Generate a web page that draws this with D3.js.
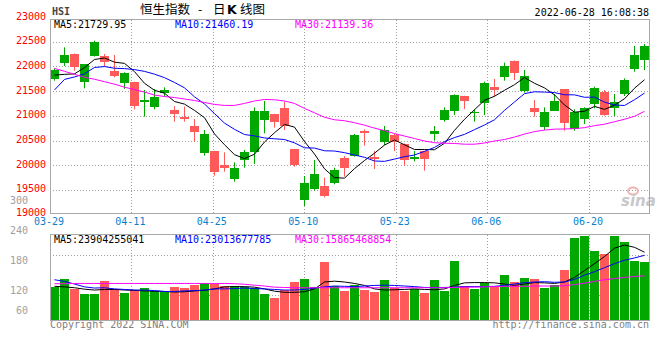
<!DOCTYPE html>
<html><head><meta charset="utf-8">
<script src="https://cdn.jsdelivr.net/npm/d3@7/dist/d3.min.js"></script>
<style>
body{margin:0;background:#fff}
svg{display:block}
text{font-family:"DejaVu Sans Mono","Liberation Mono",monospace;font-size:10px}
</style>
</head><body>
<svg id="c" width="660" height="360"></svg>
<script>
// ---------- data ----------
const dates = ["03-29","03-30","03-31","04-01","04-04","04-06","04-07","04-08","04-11","04-12","04-13","04-14","04-19","04-20","04-21","04-22","04-25","04-26","04-27","04-28","04-29","05-03","05-04","05-05","05-06","05-10","05-11","05-12","05-13","05-16","05-17","05-18","05-19","05-20","05-23","05-24","05-25","05-26","05-27","05-30","05-31","06-01","06-02","06-06","06-07","06-08","06-09","06-10","06-13","06-14","06-15","06-16","06-17","06-20","06-21","06-22","06-23","06-24","06-27","06-28"];
const open  = [21745,22075,22251,21677,22217,22210,21913,21657,21677,21273,21185,21455,21117,20982,20793,20254,20287,20004,19721,20105,20274,20915,21036,21165,20321,19296,19518,19579,19633,20152,20193,20692,20173,20463,20611,20422,20119,20287,20632,20915,21104,21401,21050,21266,21576,21779,22109,21509,21151,20766,21104,21536,20733,20935,21239,21488,21151,21441,21947,22129];
const high  = [21961,22386,22260,22045,22521,22251,22231,21880,21690,21522,21542,21576,21198,21185,20935,20712,20290,20260,20058,20308,21171,21299,21040,21286,20330,19781,20105,19748,19950,20186,20632,20726,20287,20793,20640,20440,20287,20290,20793,21171,21434,21405,21131,21691,21745,22075,22120,21927,21320,21171,21441,21540,21131,21171,21590,21522,21441,21758,22413,22453];
const low   = [21711,22008,21913,21556,22200,21994,21779,21542,21131,20982,21131,21387,20881,20881,20476,20193,19788,19869,19667,19950,20024,20645,20760,20713,19970,19174,19485,19350,19613,19768,20173,20395,19923,20409,20287,19991,20080,19889,20497,20881,21016,21138,20881,21016,21387,21711,21725,21468,20982,20712,21100,20699,20699,20834,21151,21000,20996,21401,21893,21927];
const close = [21928,22232,21997,22040,22502,22081,21809,21872,21208,21319,21374,21518,21028,20945,20682,20639,19869,19935,19946,20276,21089,21102,20870,20793,20002,19634,19825,19380,19899,19950,20603,20644,20121,20717,20470,20112,20171,20116,20697,21124,21415,21295,21082,21654,21532,22015,21869,21806,21068,21068,21308,20845,21075,21164,21560,21008,21274,21719,22230,22419];
const ma5  = [21824,21839,21849,21976,22140,22170,22086,22061,21894,21658,21516,21458,21289,21237,21109,20962,20633,20414,20214,20133,20223,20470,20657,20826,20771,20480,20225,19927,19748,19738,19931,20095,20243,20407,20511,20413,20318,20317,20313,20444,20705,20929,21123,21314,21396,21516,21630,21775,21658,21565,21424,21219,21073,21092,21190,21130,21216,21345,21558,21730];
const ma10 = [21523,21737,21787,21850,21978,21997,21963,21955,21935,21899,21843,21772,21675,21566,21384,21239,21045,20852,20726,20621,20593,20551,20535,20520,20452,20352,20347,20292,20287,20254,20206,20160,20085,20078,20124,20172,20207,20280,20360,20478,20559,20624,20720,20814,20920,21110,21280,21449,21486,21480,21470,21425,21424,21375,21378,21277,21218,21209,21325,21460];
const ma30 = [21960,21900,21840,21780,21740,21690,21640,21580,21530,21480,21420,21390,21370,21340,21310,21270,21230,21210,21210,21250,21300,21330,21325,21300,21250,21150,21060,20970,20920,20900,20860,20810,20750,20700,20640,20590,20540,20490,20455,20445,20440,20425,20425,20450,20490,20520,20570,20630,20680,20710,20730,20733,20740,20760,20800,20830,20880,20930,20990,21090];
// volume in 亿 (100 million)
const vol = [120,146,112,94,94,140,112,98,108,115,106,101,119,115,126,131,128,123,122,120,115,94,81,108,137,146,119,207,122,106,124,108,101,143,114,106,113,99,143,106,210,122,113,134,120,160,137,151,146,116,124,178,290,296,244,234,298,276,209,206];
const volMa5  = [121,119,116,111,108,110,110,108,107,105,104,103,101,102,105,107,112,119,120,120,118,112,104,100,100,102,112,136,139,136,131,124,112,108,109,110,112,110,109,112,124,133,134,134,133,129,124,129,134,133,131,136,152,176,200,225,254,265,257,240];
const volMa10 = [144,138,129,119,115,116,112,110,108,108,106,103,103,105,106,108,112,112,113,115,113,112,110,108,108,110,115,119,122,121,120,122,124,125,124,122,120,117,117,117,118,120,120,120,121,124,129,134,136,137,135,136,145,160,172,186,200,212,220,229];
const volMa30 = [130,130,131,131,131,131,131,131,131,131,131,131,131,131,131,131,131,131,130,128,125,122,118,117,116,116,116,116,116,116,116,116,116,116,116,116,116,116,116,116,117,118,118,119,120,121,121,121,122,122,122,123,127,132,138,144,148,152,155,158];
const xTickLabels = ["03-29","04-11","04-25","05-10","05-23","06-06","06-20"];
const yTickValues = [23000,22500,22000,21500,21000,20500,20000,19500,19000];
const volTickLabels = ["300","240","180","120","60"];
const maLegend = ["MA5:21729.95","MA10:21460.19","MA30:21139.36"];
const volLegend = ["MA5:23904255041","MA10:23013677785","MA30:15865468854"];
const volGridValues = [230, 91];

// ---------- colours ----------
const UP = "#00a800", DOWN = "#ff5959";
const maColors = ["#000000","#0000ff","#ff00ff"];
const gridColor = "#a0a0a0", frameColor = "#a8a8a8";

const svg = d3.select("#c");
svg.append("rect").attr("width",660).attr("height",360).attr("fill","#fff");

// ---------- scales ----------
const idx = d3.range(dates.length);
const x = d3.scaleBand().domain(idx).range([49.5,649.5]).paddingInner(0.1).paddingOuter(0.05);
const xGrid = d3.scaleLinear().domain([0, dates.length-1]).range([50,650]);
const y = d3.scaleLinear().domain([19000,23000]).range([214.6,17]);
const yv = d3.scaleLinear().domain([0,300]).range([321,235]);
const yvLabel = d3.scaleLinear().domain([300,240,180,120,60]).range([200.5,230.7,260.7,290.7,310.7]);
const cx = i => x(i) + x.bandwidth()/2;
const px = v => Math.round(v) + 0.5;

// ---------- header ----------
svg.append("text").attr("x",52).attr("y",15).attr("fill","#444").attr("font-weight","bold").text("HSI");
const title = svg.append("text").attr("y",14).attr("fill","#000")
  .style("font-family","'Noto Sans CJK SC','Noto Sans',sans-serif").style("font-size","12.5px");
title.append("tspan").attr("x",140).text("恒生指数");
title.append("tspan").attr("x",198).text("-");
title.append("tspan").attr("x",213).text("日");
title.append("tspan").attr("x",227).attr("font-weight","bold").style("font-family","'DejaVu Sans',sans-serif").text("K");
title.append("tspan").attr("x",240).text("线图");
svg.append("text").attr("x",649).attr("y",15.5).attr("text-anchor","end").attr("fill","#000").text("2022-06-28 16:08:38");

// ---------- grids ----------
const tickIdx = xTickLabels.map(d => dates.indexOf(d));
const g = svg.append("g").attr("stroke",gridColor).attr("stroke-dasharray","1,2").attr("shape-rendering","crispEdges");
g.selectAll("line.hm").data(yTickValues.filter(v => v>19000 && v<23000)).join("line")
  .attr("x1",50).attr("x2",650).attr("y1",d=>px(y(d))).attr("y2",d=>px(y(d)));
tickIdx.filter(i=>i>0).forEach(i=>{
  g.append("line").attr("x1",px(xGrid(i))).attr("x2",px(xGrid(i))).attr("y1",20).attr("y2",213);
  g.append("line").attr("x1",px(xGrid(i))).attr("x2",px(xGrid(i))).attr("y1",235).attr("y2",320);
});
g.selectAll("line.hv").data(volGridValues).join("line")
  .attr("x1",50).attr("x2",650).attr("y1",d=>px(yv(d))).attr("y2",d=>px(yv(d)));

// ---------- y labels ----------
svg.append("g").selectAll("text").data(yTickValues).join("text")
  .attr("x",46).attr("y",d=>y(d)+(d===19000?1.5:2.5)).attr("text-anchor","end").attr("fill","#ff0000").text(d=>d);
svg.append("g").selectAll("text").data(volTickLabels).join("text")
  .attr("x",28).attr("y",d=>yvLabel(+d)+3.5).attr("text-anchor","end").attr("fill","#a0a0a0").text(d=>d);

// ---------- x labels ----------
svg.append("g").selectAll("text").data(xTickLabels).join("text")
  .attr("x",d=>xGrid(dates.indexOf(d))-1).attr("y",225).attr("text-anchor","middle")
  .attr("fill","#0a7fd0").text(d=>d);

// ---------- watermark ----------
const wm = svg.append("g");
wm.append("ellipse").attr("cx",633).attr("cy",191).attr("rx",5).attr("ry",3.5).attr("fill","none").attr("stroke","#f2b3b3").attr("stroke-width",2);
wm.append("text").attr("x",621).attr("y",206).attr("fill","#c8c8c8").attr("font-weight","bold").attr("font-style","italic")
  .style("font-family","'DejaVu Sans',sans-serif").style("font-size","15px").text("sina");

// ---------- candles ----------
const isUp = i => close[i] >= open[i];
const cg = svg.append("g");
cg.selectAll("line").data(idx).join("line")
  .attr("x1",i=>px(cx(i)-0.5)).attr("x2",i=>px(cx(i)-0.5))
  .attr("y1",i=>y(high[i])).attr("y2",i=>y(low[i]))
  .attr("stroke",i=>isUp(i)?UP:DOWN).attr("stroke-width",1);
cg.selectAll("rect").data(idx).join("rect")
  .attr("x",i=>x(i)).attr("width",x.bandwidth())
  .attr("y",i=>y(Math.max(open[i],close[i])))
  .attr("height",i=>Math.max(1, Math.abs(y(open[i])-y(close[i]))))
  .attr("fill",i=>isUp(i)?UP:DOWN).attr("shape-rendering","crispEdges");

// ---------- MA lines ----------
const lineP = d3.line().x((d,i)=>cx(i)).y(d=>y(d));
[ma5,ma10,ma30].forEach((s,k)=>{
  svg.append("path").datum(s).attr("d",lineP).attr("fill","none").attr("stroke",maColors[k]).attr("stroke-width",1);
});

// ---------- volume ----------
svg.append("g").selectAll("rect").data(idx).join("rect")
  .attr("x",i=>x(i)).attr("width",x.bandwidth())
  .attr("y",i=>yv(vol[i])).attr("height",i=>yv(0)-yv(vol[i]))
  .attr("fill",i=>isUp(i)?UP:DOWN).attr("shape-rendering","crispEdges");
const lineV = d3.line().x((d,i)=>cx(i)).y(d=>yv(d));
[volMa5,volMa10,volMa30].forEach((s,k)=>{
  svg.append("path").datum(s).attr("d",lineV).attr("fill","none").attr("stroke",maColors[k]).attr("stroke-width",1);
});

// ---------- legends ----------
const legX = [54,175,295];
maLegend.forEach((t,k)=>svg.append("text").attr("x",legX[k]).attr("y",27.5).attr("fill",maColors[k]).text(t));
volLegend.forEach((t,k)=>svg.append("text").attr("x",legX[k]).attr("y",242.5).attr("fill",maColors[k]).text(t));

// ---------- footer ----------
svg.append("text").attr("x",50).attr("y",328).attr("fill","#808080").text("Copyright 2022 SINA.COM");
svg.append("text").attr("x",649).attr("y",328).attr("text-anchor","end").attr("fill","#808080").text("http://finance.sina.com.cn");

// ---------- frames ----------
const fr = svg.append("g").attr("fill","none").attr("stroke",frameColor).attr("shape-rendering","crispEdges");
fr.append("rect").attr("x",50.5).attr("y",19.5).attr("width",599).attr("height",194);
fr.append("rect").attr("x",50.5).attr("y",234.5).attr("width",599).attr("height",86);
</script>
</body></html>
